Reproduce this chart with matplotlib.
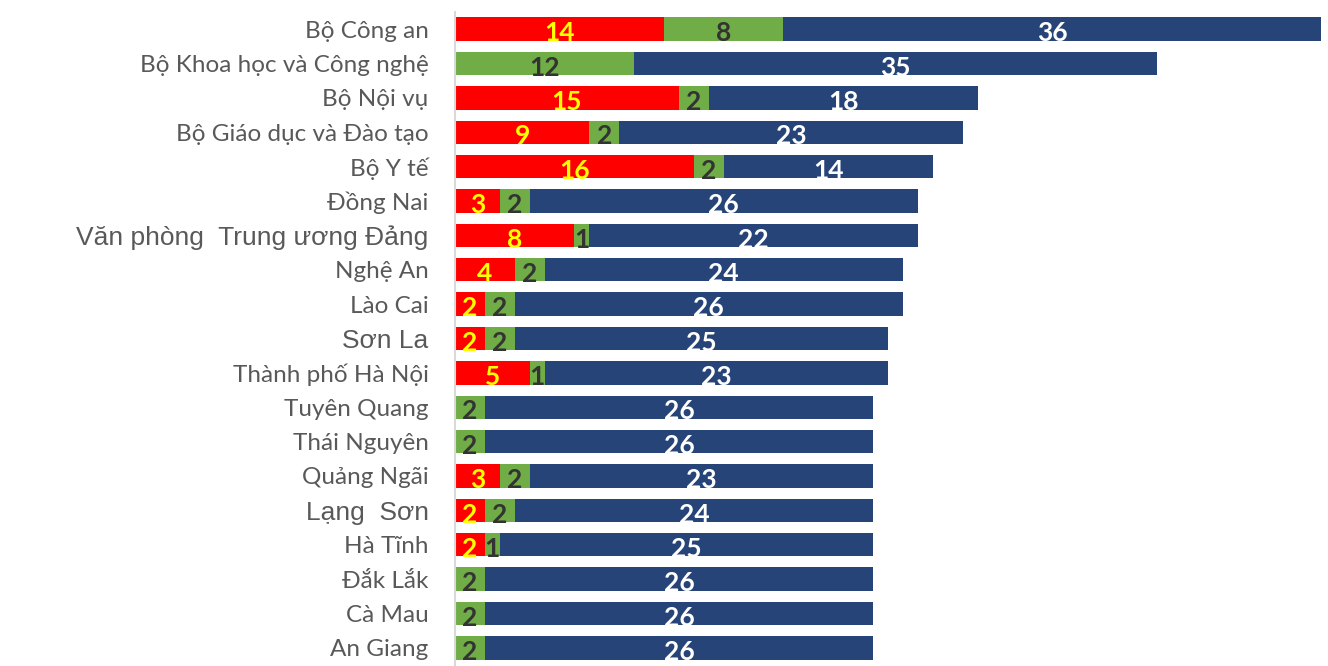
import matplotlib
matplotlib.use("Agg")
import matplotlib.pyplot as plt
import numpy as np

categories = [
    "Bộ Công an", "Bộ Khoa học và Công nghệ", "Bộ Nội vụ", "Bộ Giáo dục và Đào tạo",
    "Bộ Y tế", "Đồng Nai", "Văn phòng  Trung ương Đảng", "Nghệ An", "Lào Cai", "Sơn La",
    "Thành phố Hà Nội", "Tuyên Quang", "Thái Nguyên", "Quảng Ngãi", "Lạng  Sơn",
    "Hà Tĩnh", "Đắk Lắk", "Cà Mau", "An Giang",
]
red_vals = [14, 0, 15, 9, 16, 3, 8, 4, 2, 2, 5, 0, 0, 3, 2, 2, 0, 0, 0]
green_vals = [8, 12, 2, 2, 2, 2, 1, 2, 2, 2, 1, 2, 2, 2, 2, 1, 2, 2, 2]
navy_vals = [36, 35, 18, 23, 14, 26, 22, 24, 26, 25, 23, 26, 26, 23, 24, 25, 26, 26, 26]

big_labels = {"Văn phòng  Trung ương Đảng", "Sơn La", "Lạng  Sơn"}

RED = "#FF0000"
GREEN = "#70AD47"
NAVY = "#264478"

fig = plt.figure(figsize=(13.28, 6.66), dpi=100)
ax = fig.add_axes([455 / 1328, 1 - 665 / 666, (1321 - 455) / 1328, (665 - 12) / 666])

y = np.arange(len(categories))
red = np.array(red_vals)
green = np.array(green_vals)
navy = np.array(navy_vals)
h = 0.68

series = [
    (red, np.zeros_like(red), RED, "#FFFF00"),
    (green, red, GREEN, "#333333"),
    (navy, red + green, NAVY, "#FFFFFF"),
]
for vals, left, col, tcol in series:
    bars = ax.barh(y, vals, left=left, height=h, color=col, edgecolor="none")
    for b, v in zip(bars, vals):
        if v > 0:
            ax.annotate(str(v), (b.get_x() + b.get_width() / 2, b.get_y() + b.get_height() / 2),
                        xytext=(0, -3), textcoords="offset points",
                        ha="center", va="center", fontsize=19, fontweight="bold",
                        color=tcol, family=["Lato", "DejaVu Sans"])

ax.set_xlim(0, 58)
ax.set_ylim(len(categories) - 0.5, -0.5)
ax.set_yticks(y)
ax.set_yticklabels(categories)
for lbl in ax.get_yticklabels():
    if lbl.get_text() in big_labels:
        lbl.set_fontsize(19)
        lbl.set_family(["Liberation Sans", "DejaVu Sans"])
    else:
        lbl.set_fontsize(17.5)
        lbl.set_family(["Lato", "DejaVu Sans"])
    lbl.set_color("#595959")
ax.tick_params(axis="y", length=0, pad=19)
ax.set_xticks([])
for s in ["top", "right", "bottom"]:
    ax.spines[s].set_visible(False)
ax.spines["left"].set_color("#D9D9D9")
ax.spines["left"].set_linewidth(1.5)

fig.savefig("out.png", dpi=100)
